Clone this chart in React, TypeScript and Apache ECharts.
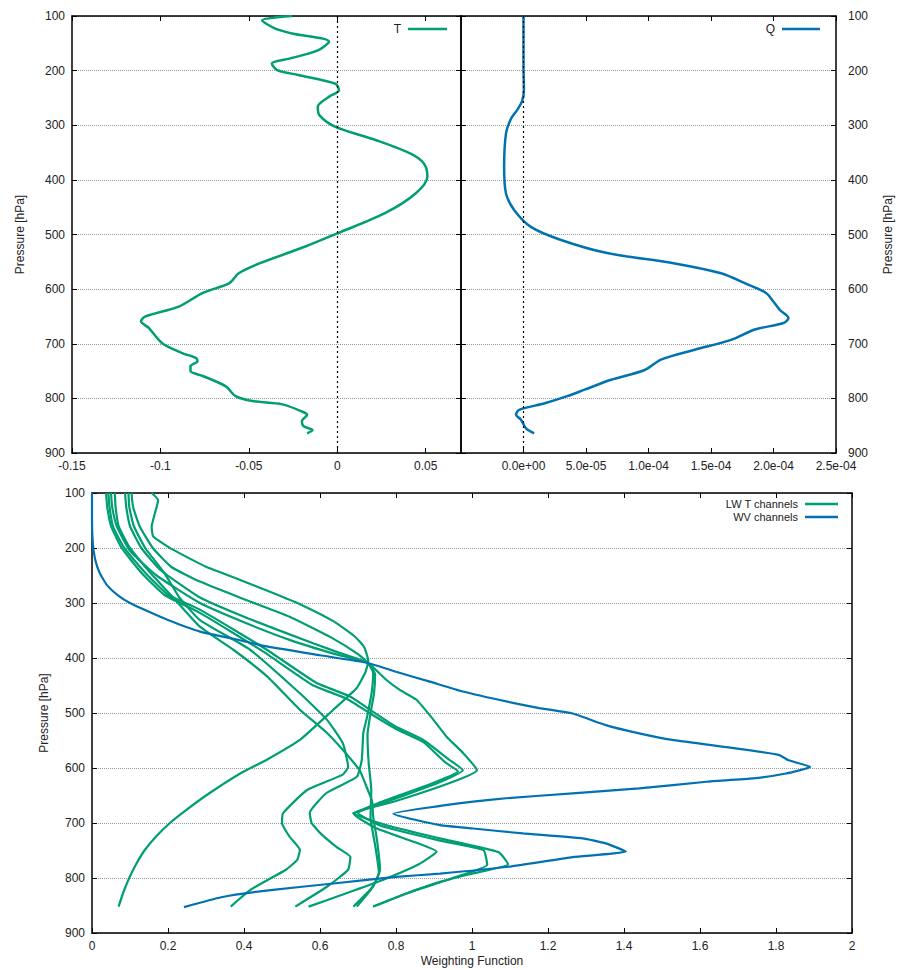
import React, { useEffect, useRef } from "react";
import * as echarts from "echarts";

// ---- Data (x value, pressure hPa) ----
const pressureTicks = [100, 200, 300, 400, 500, 600, 700, 800, 900];

const tProfile: [number, number][] = [
  [-0.0255, 100], [-0.0425, 108], [-0.035, 123], [-0.0255, 132], [-0.0047, 147], [-0.011, 163],
  [-0.027, 178], [-0.037, 187], [-0.034, 199], [-0.022, 208], [-0.001, 224], [0.001, 236],
  [-0.0047, 248], [-0.011, 266], [-0.01, 282], [-0.001, 303], [0.0217, 327], [0.0415, 352],
  [0.049, 370], [0.051, 394], [0.0443, 425], [0.027, 461], [0, 498], [-0.018, 522],
  [-0.044, 553], [-0.0557, 571], [-0.061, 589], [-0.076, 607], [-0.0896, 632], [-0.1085, 650],
  [-0.111, 659], [-0.1066, 671], [-0.099, 699], [-0.0877, 717], [-0.08, 726], [-0.079, 732],
  [-0.083, 741], [-0.083, 750], [-0.076, 759], [-0.063, 778], [-0.0575, 796], [-0.048, 805],
  [-0.031, 811], [-0.02, 824], [-0.017, 830], [-0.02, 842], [-0.019, 851], [-0.014, 858],
  [-0.017, 864],
];

const qProfile: [number, number][] = [
  [0, 100], [0, 193], [0.3e-6, 235], [-1e-6, 255], [-5e-6, 272], [-10e-6, 288], [-14e-6, 315],
  [-15.5e-6, 376], [-14e-6, 425], [-7.5e-6, 455], [5.9e-6, 486], [30e-6, 510], [67e-6, 534],
  [121e-6, 553], [158e-6, 571], [177e-6, 589], [194e-6, 607], [200e-6, 623], [205e-6, 638],
  [212e-6, 653], [208e-6, 662], [185e-6, 674], [166e-6, 693], [137e-6, 711], [110e-6, 729],
  [97e-6, 748], [70e-6, 766], [49e-6, 784], [35e-6, 796], [17e-6, 809], [-3.5e-6, 821],
  [-6e-6, 830], [-2e-6, 839], [2e-6, 855], [8.5e-6, 864],
];

const wvChannel: [number, number][] = [
  [0, 100], [0, 150], [0.002, 190], [0.008, 220], [0.02, 245], [0.04, 268], [0.07, 287],
  [0.1, 300], [0.15, 316], [0.2, 331], [0.284, 352], [0.372, 365], [0.46, 379], [0.6, 395],
  [0.726, 409], [0.8, 425], [0.889, 443], [0.976, 461], [1.09, 479], [1.177, 491], [1.265, 501],
  [1.352, 522], [1.44, 537], [1.527, 549], [1.658, 561], [1.807, 576], [1.833, 586], [1.89, 598],
  [1.826, 610], [1.739, 619], [1.617, 625], [1.44, 637], [1.265, 646], [1.09, 655], [1.003, 661],
  [0.916, 669], [0.793, 683], [0.916, 704], [1.003, 710], [1.134, 719], [1.291, 728], [1.352, 737],
  [1.405, 752], [1.265, 762], [1.09, 780], [0.916, 792], [0.8, 798], [0.635, 810], [0.47, 822],
  [0.34, 835], [0.242, 853],
];

const lwChannel1: [number, number][] = [
  [0.157, 100], [0.174, 113], [0.166, 136], [0.157, 161], [0.161, 179], [0.213, 203], [0.3, 234],
  [0.39, 258], [0.47, 280], [0.55, 303], [0.635, 333], [0.69, 360], [0.716, 380], [0.727, 405],
  [0.72, 425], [0.696, 455], [0.635, 494], [0.547, 549], [0.46, 585], [0.39, 610], [0.3, 650],
  [0.245, 678], [0.205, 700], [0.168, 725], [0.138, 750], [0.116, 775], [0.098, 800],
  [0.083, 825], [0.07, 852],
];
const lwChannel2: [number, number][] = [
  [0.104, 100], [0.108, 125], [0.125, 160], [0.16, 200], [0.21, 235], [0.284, 261], [0.4, 293],
  [0.52, 325], [0.63, 363], [0.7, 393], [0.726, 409], [0.74, 427], [0.737, 458], [0.724, 507],
  [0.714, 536], [0.71, 585], [0.697, 616], [0.618, 645], [0.573, 682], [0.578, 700], [0.6, 718],
  [0.644, 744], [0.68, 762], [0.674, 785], [0.62, 815], [0.535, 852],
];
const lwChannel3: [number, number][] = [
  [0.096, 100], [0.098, 125], [0.11, 160], [0.14, 200], [0.19, 245], [0.23, 290], [0.284, 331],
  [0.416, 385], [0.547, 464], [0.618, 512], [0.66, 555], [0.674, 598], [0.66, 612], [0.566, 640],
  [0.503, 682], [0.5, 700], [0.52, 725], [0.547, 749], [0.54, 767], [0.51, 785], [0.416, 822],
  [0.365, 852],
];
const lwChannel4: [number, number][] = [
  [0.087, 100], [0.09, 125], [0.1, 160], [0.13, 200], [0.18, 240], [0.284, 290], [0.4, 325],
  [0.52, 357], [0.64, 388], [0.726, 409], [0.775, 440], [0.81, 458], [0.854, 476], [0.898, 512],
  [0.933, 543], [0.977, 573], [1.013, 604], [0.95, 625], [0.8, 660], [0.687, 682], [0.78, 705],
  [0.916, 728], [1.07, 753], [1.095, 775], [1.0, 792], [0.916, 807], [0.82, 830], [0.74, 852],
];
const lwChannel5: [number, number][] = [
  [0.043, 100], [0.046, 125], [0.055, 160], [0.085, 200], [0.14, 245], [0.2, 285], [0.284, 312],
  [0.46, 385], [0.59, 445], [0.679, 470], [0.74, 498], [0.8, 525], [0.872, 549], [0.94, 585],
  [0.976, 604], [0.9, 630], [0.78, 660], [0.7, 682], [0.76, 705], [0.916, 732], [1.03, 749],
  [1.04, 776], [0.95, 800], [0.84, 825], [0.74, 852],
];
const lwChannel6: [number, number][] = [
  [0.037, 100], [0.04, 125], [0.05, 160], [0.078, 200], [0.13, 245], [0.19, 285], [0.284, 318],
  [0.45, 388], [0.58, 449], [0.67, 474], [0.735, 502], [0.8, 529], [0.872, 553], [0.93, 590],
  [0.963, 606], [0.88, 632], [0.76, 662], [0.69, 684], [0.75, 710], [0.85, 735], [0.907, 752],
  [0.86, 775], [0.76, 805], [0.66, 830], [0.57, 852],
];
const lwChannel7: [number, number][] = [
  [0.06, 100], [0.062, 125], [0.07, 160], [0.1, 200], [0.16, 250], [0.22, 295], [0.284, 343],
  [0.372, 385], [0.46, 433], [0.547, 494], [0.618, 536], [0.67, 575], [0.705, 605], [0.72, 630],
  [0.737, 660], [0.74, 689], [0.75, 731], [0.758, 785], [0.74, 815], [0.688, 852],
];
const lwChannel8: [number, number][] = [
  [0.05, 100], [0.053, 125], [0.065, 160], [0.1, 205], [0.17, 250], [0.284, 300], [0.4, 335],
  [0.52, 367], [0.64, 393], [0.726, 409], [0.745, 430], [0.742, 465], [0.733, 500], [0.725, 540],
  [0.728, 590], [0.735, 640], [0.733, 690], [0.745, 740], [0.755, 790], [0.735, 820], [0.697, 852],
];

const lwChannels = [lwChannel1, lwChannel2, lwChannel3, lwChannel4, lwChannel5, lwChannel6, lwChannel7, lwChannel8];

const GREEN = "#009e73";
const BLUE = "#0072b2";
const FONT = "Liberation Sans";
const LABEL = { color: "#222", fontFamily: FONT, fontSize: 12 };

function expFmt(v: number): string {
  if (Math.abs(v) < 1e-12) return "0.0e+00";
  const s = v.toExponential(1);
  const [m, e] = s.split("e");
  const n = parseInt(e, 10);
  const sign = n < 0 ? "-" : "+";
  const a = Math.abs(n);
  return `${m}e${sign}${a < 10 ? "0" + a : a}`;
}

const pressureAxis = (grid: number, pos: "left" | "right", labels: boolean, split: boolean, name?: string, gap?: number) => ({
  type: "value",
  gridIndex: grid,
  position: pos,
  inverse: true,
  min: pressureTicks[0],
  max: pressureTicks[pressureTicks.length - 1],
  interval: 100,
  name: name || "",
  nameLocation: "middle",
  nameGap: gap || 40,
  nameRotate: 90,
  nameTextStyle: { color: "#222", fontFamily: FONT, fontSize: 12 },
  axisLine: { show: true, onZero: false, lineStyle: { color: "#000", width: 1.5 } },
  axisTick: { show: true, inside: true, length: 5, lineStyle: { color: "#000" } },
  axisLabel: { show: labels, ...LABEL, margin: pos === "right" ? 12 : 7 },
  splitLine: { show: split, lineStyle: { color: "#999", type: "dotted", width: 1 } },
});

const xAxisBase = (grid: number, pos: "top" | "bottom", min: number, max: number, interval: number, labels: boolean, fmt: (v: number) => string, extra: any = {}) => ({
  type: "value",
  gridIndex: grid,
  position: pos,
  min,
  max,
  interval,
  axisLine: { show: true, onZero: false, lineStyle: { color: "#000", width: 1.5 } },
  axisTick: { show: true, inside: true, length: 5, lineStyle: { color: "#000" } },
  axisLabel: { show: labels, ...LABEL, margin: 7, formatter: fmt },
  splitLine: { show: false },
  ...extra,
});

export default function App() {
  const ref = useRef<HTMLDivElement>(null);
  useEffect(() => {
    if (!ref.current) return;
    const chart = echarts.init(ref.current, undefined, { renderer: "svg" });
    const f2 = (v: number) => String(parseFloat(v.toFixed(2)));
    const f1 = (v: number) => String(parseFloat(v.toFixed(1)));
    const zeroLine = {
      silent: true,
      symbol: ["none", "none"],
      label: { show: false },
      lineStyle: { color: "#000", type: [2, 3], width: 1.2 },
      data: [{ xAxis: 0 }],
    };
    const option: any = {
      animation: false,
      backgroundColor: "#fff",
      grid: [
        { left: 72, top: 16, width: 389, height: 437 },
        { left: 461, top: 16, width: 375, height: 437 },
        { left: 92, top: 493, width: 760, height: 440 },
      ],
      xAxis: [
        xAxisBase(0, "bottom", -0.15, 0.07, 0.05, true, f2, { axisLabel: { show: true, ...LABEL, margin: 7, formatter: f2, showMaxLabel: false } }),
        xAxisBase(0, "top", -0.15, 0.07, 0.05, false, f2),
        xAxisBase(1, "bottom", -5e-5, 2.5e-4, 5e-5, true, expFmt, { axisLabel: { show: true, ...LABEL, margin: 7, formatter: expFmt, showMinLabel: false } }),
        xAxisBase(1, "top", -5e-5, 2.5e-4, 5e-5, false, expFmt),
        xAxisBase(2, "bottom", 0, 2, 0.2, true, f1, {
          name: "Weighting Function",
          nameLocation: "middle",
          nameGap: 22,
          nameTextStyle: { color: "#222", fontFamily: FONT, fontSize: 12 },
        }),
        xAxisBase(2, "top", 0, 2, 0.2, false, f1),
      ],
      yAxis: [
        pressureAxis(0, "left", true, true, "Pressure [hPa]", 46),
        pressureAxis(0, "right", false, false),
        pressureAxis(1, "right", true, true, "Pressure [hPa]", 46),
        pressureAxis(1, "left", false, false),
        pressureAxis(2, "left", true, true, "Pressure [hPa]", 42),
        pressureAxis(2, "right", false, false),
      ],
      series: [
        {
          name: "T",
          type: "line",
          xAxisIndex: 0,
          yAxisIndex: 0,
          data: tProfile,
          showSymbol: false,
          symbol: "none",
          smooth: 0.3,
          lineStyle: { color: GREEN, width: 2.5 },
          markLine: zeroLine,
          z: 3,
        },
        {
          name: "Q",
          type: "line",
          xAxisIndex: 2,
          yAxisIndex: 2,
          data: qProfile,
          showSymbol: false,
          symbol: "none",
          smooth: 0.3,
          lineStyle: { color: BLUE, width: 2.5 },
          markLine: zeroLine,
          z: 3,
        },
        ...lwChannels.map((d) => ({
          name: "LW T channels",
          type: "line",
          xAxisIndex: 4,
          yAxisIndex: 4,
          data: d,
          showSymbol: false,
          symbol: "none",
          smooth: 0.15,
          lineStyle: { color: GREEN, width: 2.2 },
          z: 3,
        })),
        {
          name: "WV channels",
          type: "line",
          xAxisIndex: 4,
          yAxisIndex: 4,
          data: wvChannel,
          showSymbol: false,
          symbol: "none",
          smooth: 0.15,
          lineStyle: { color: BLUE, width: 2.2 },
          z: 4,
        },
      ],
      graphic: [
        { type: "text", x: 401, y: 29, style: { text: "T", fill: "#222", font: `12px ${FONT}`, align: "right", verticalAlign: "middle" } },
        { type: "line", shape: { x1: 408, y1: 29, x2: 447, y2: 29 }, style: { stroke: GREEN, lineWidth: 2.5 } },
        { type: "text", x: 775, y: 29, style: { text: "Q", fill: "#222", font: `12px ${FONT}`, align: "right", verticalAlign: "middle" } },
        { type: "line", shape: { x1: 782, y1: 29, x2: 820, y2: 29 }, style: { stroke: BLUE, lineWidth: 2.5 } },
        { type: "text", x: 798, y: 504, style: { text: "LW T channels", fill: "#222", font: `11px ${FONT}`, lineHeight: 11, align: "right", verticalAlign: "middle" } },
        { type: "line", shape: { x1: 805, y1: 504, x2: 838, y2: 504 }, style: { stroke: GREEN, lineWidth: 2.5 } },
        { type: "text", x: 798, y: 517, style: { text: "WV channels", fill: "#222", font: `11px ${FONT}`, lineHeight: 11, align: "right", verticalAlign: "middle" } },
        { type: "line", shape: { x1: 805, y1: 517, x2: 838, y2: 517 }, style: { stroke: BLUE, lineWidth: 2.5 } },
      ],
    };
    chart.setOption(option);
    return () => chart.dispose();
  }, []);
  return (
    <div
      ref={ref}
      style={{ position: "fixed", left: 0, top: 0, width: 899, height: 970, background: "#fff" }}
    />
  );
}
